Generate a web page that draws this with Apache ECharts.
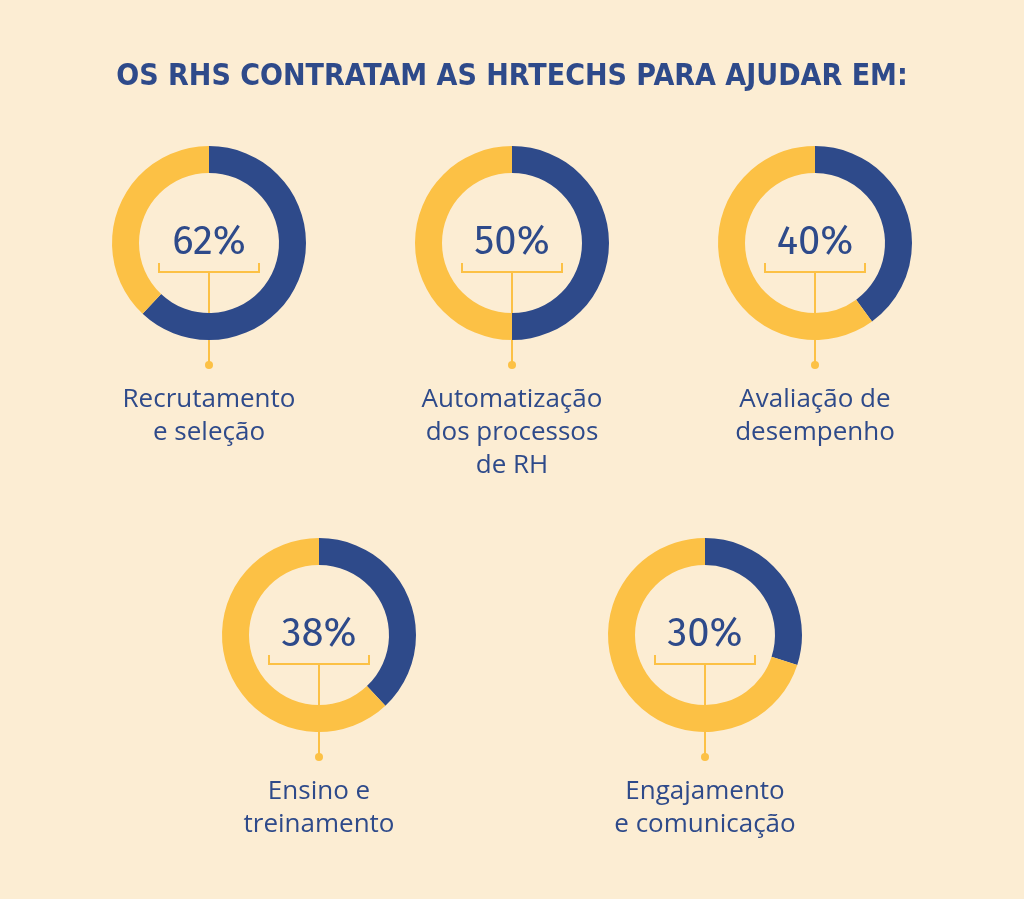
<!DOCTYPE html>
<html>
<head>
<meta charset="utf-8">
<script src="https://cdn.jsdelivr.net/npm/echarts@6/dist/echarts.min.js"></script>
<style>
html, body { margin: 0; padding: 0; background: #fcedd3; }
#chart { width: 1024px; height: 899px; }
</style>
</head>
<body>
<div id="chart"></div>
<script>
var titleText = 'OS RHS CONTRATAM AS HRTECHS PARA AJUDAR EM:';
var categories = ['Recrutamento\ne seleção', 'Automatização\ndos processos\nde RH',
    'Avaliação de\ndesempenho', 'Ensino e\ntreinamento', 'Engajamento\ne comunicação'];
var values = [62, 50, 40, 38, 30];
var centers = [[209, 243], [512, 243], [815, 243], [319, 635], [705, 635]];

var blue = '#2e4a8a';
var yellow = '#fcc145';

var chart = echarts.init(document.getElementById('chart'));
var series = [];
var graphic = [{
    type: 'text', left: 'center', top: 62,
    style: {text: titleText, fill: blue, font: '900 30px "DejaVu Sans Condensed", "Open Sans", sans-serif'}
}];

values.forEach(function (v, i) {
    var c = centers[i];
    series.push({
        type: 'pie',
        center: c,
        radius: [70, 97],
        startAngle: 90,
        clockwise: true,
        silent: true,
        label: {
            show: true, position: 'center',
            formatter: function () { return v + '%'; },
            color: blue, fontSize: 40, fontFamily: '"Fira Sans", "Open Sans", sans-serif',
            padding: [0, 0, 6, 0]
        },
        labelLine: {show: false},
        emphasis: {disabled: true},
        data: [
            {value: v, itemStyle: {color: blue}},
            {value: 100 - v, itemStyle: {color: yellow}, label: {show: false}}
        ]
    });
    // bracket + connector under the percentage
    var x = c[0], y = c[1];
    graphic.push({
        type: 'polyline',
        shape: {points: [[x - 50, y + 20], [x - 50, y + 29], [x + 50, y + 29], [x + 50, y + 20]]},
        style: {stroke: yellow, lineWidth: 2, fill: null}
    });
    graphic.push({
        type: 'line', shape: {x1: x, y1: y + 29, x2: x, y2: y + 122},
        style: {stroke: yellow, lineWidth: 2}
    });
    graphic.push({
        type: 'circle', shape: {cx: x, cy: y + 122, r: 4},
        style: {fill: yellow}
    });
    graphic.push({
        type: 'text', x: x, y: y + 140,
        style: {
            text: categories[i], fill: blue, align: 'center', verticalAlign: 'top',
            font: '500 26px "Open Sans", sans-serif', lineHeight: 33
        }
    });
});

chart.setOption({
    backgroundColor: '#fcedd3',
    animation: false,
    series: series,
    graphic: graphic
});
</script>
</body>
</html>
